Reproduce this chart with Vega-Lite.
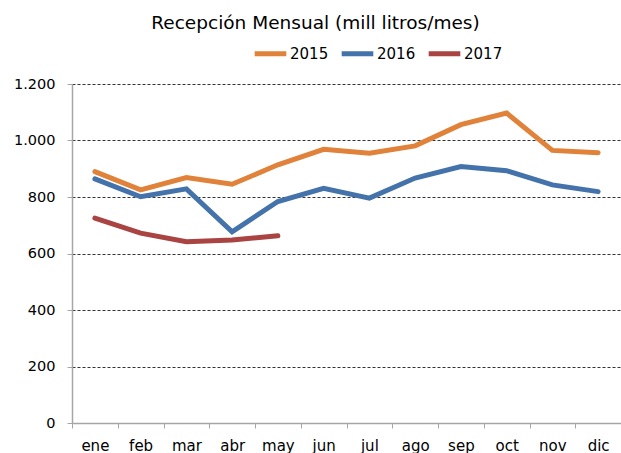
{
  "$schema": "https://vega.github.io/schema/vega-lite/v6.json",
  "autosize": "none",
  "width": 549,
  "height": 339,
  "padding": {"left": 72, "top": 84, "right": 0, "bottom": 30},
  "background": "white",
  "title": {
    "text": "Recepción Mensual (mill litros/mes)",
    "font": "DejaVu Sans",
    "fontSize": 18.5,
    "fontWeight": "normal",
    "color": "#000000",
    "anchor": "middle",
    "dx": -31,
    "offset": 3
  },
  "data": {
    "values": [
      {"mes": "ene", "anio": "2015", "valor": 890},
      {"mes": "feb", "anio": "2015", "valor": 825},
      {"mes": "mar", "anio": "2015", "valor": 869},
      {"mes": "abr", "anio": "2015", "valor": 845},
      {"mes": "may", "anio": "2015", "valor": 914},
      {"mes": "jun", "anio": "2015", "valor": 969},
      {"mes": "jul", "anio": "2015", "valor": 955},
      {"mes": "ago", "anio": "2015", "valor": 981},
      {"mes": "sep", "anio": "2015", "valor": 1056},
      {"mes": "oct", "anio": "2015", "valor": 1097},
      {"mes": "nov", "anio": "2015", "valor": 965},
      {"mes": "dic", "anio": "2015", "valor": 957},
      {"mes": "ene", "anio": "2016", "valor": 864},
      {"mes": "feb", "anio": "2016", "valor": 801},
      {"mes": "mar", "anio": "2016", "valor": 829},
      {"mes": "abr", "anio": "2016", "valor": 677},
      {"mes": "may", "anio": "2016", "valor": 784},
      {"mes": "jun", "anio": "2016", "valor": 831},
      {"mes": "jul", "anio": "2016", "valor": 796},
      {"mes": "ago", "anio": "2016", "valor": 867},
      {"mes": "sep", "anio": "2016", "valor": 908},
      {"mes": "oct", "anio": "2016", "valor": 893},
      {"mes": "nov", "anio": "2016", "valor": 843},
      {"mes": "dic", "anio": "2016", "valor": 819},
      {"mes": "ene", "anio": "2017", "valor": 725},
      {"mes": "feb", "anio": "2017", "valor": 672},
      {"mes": "mar", "anio": "2017", "valor": 642},
      {"mes": "abr", "anio": "2017", "valor": 648},
      {"mes": "may", "anio": "2017", "valor": 663}
    ]
  },
  "mark": {"type": "line", "strokeWidth": 5, "strokeCap": "round", "strokeJoin": "miter"},
  "encoding": {
    "x": {
      "field": "mes",
      "type": "ordinal",
      "bandPosition": 0.5,
      "sort": ["ene", "feb", "mar", "abr", "may", "jun", "jul", "ago", "sep", "oct", "nov", "dic"],
      "scale": {"type": "band", "paddingInner": 0, "paddingOuter": 0},
      "axis": {
        "title": null,
        "labelAngle": 0,
        "labelFont": "DejaVu Sans",
        "labelFontSize": 15,
        "labelColor": "#000000",
        "labelPadding": 10,
        "tickBand": "extent",
        "tickSize": 5,
        "tickColor": "#a6a6a6",
        "domainColor": "#a6a6a6",
        "domainWidth": 1.5,
        "grid": false
      }
    },
    "y": {
      "field": "valor",
      "type": "quantitative",
      "scale": {"domain": [0, 1200], "nice": false},
      "axis": {
        "title": null,
        "values": [0, 200, 400, 600, 800, 1000, 1200],
        "labelExpr": "replace(format(datum.value, ','), ',', '.')",
        "labelFont": "DejaVu Sans",
        "labelFontSize": 14.5,
        "labelColor": "#000000",
        "labelPadding": 12,
        "tickSize": 5,
        "tickColor": "#a6a6a6",
        "domainColor": "#a6a6a6",
        "domainWidth": 1.5,
        "grid": true,
        "gridColor": "#333333",
        "gridDash": [3, 2],
        "gridWidth": 1
      }
    },
    "color": {
      "field": "anio",
      "type": "nominal",
      "scale": {"domain": ["2015", "2016", "2017"], "range": ["#E0823A", "#4472AA", "#A94442"]},
      "legend": {
        "title": null,
        "orient": "none",
        "direction": "horizontal",
        "legendX": 180,
        "legendY": -49,
        "symbolType": "stroke",
        "symbolSize": 1000,
        "symbolStrokeWidth": 5,
        "labelFont": "DejaVu Sans",
        "labelFontSize": 15,
        "labelColor": "#000000",
        "labelOffset": 1,
        "columnPadding": 2
      }
    }
  },
  "config": {"view": {"stroke": null}}
}
